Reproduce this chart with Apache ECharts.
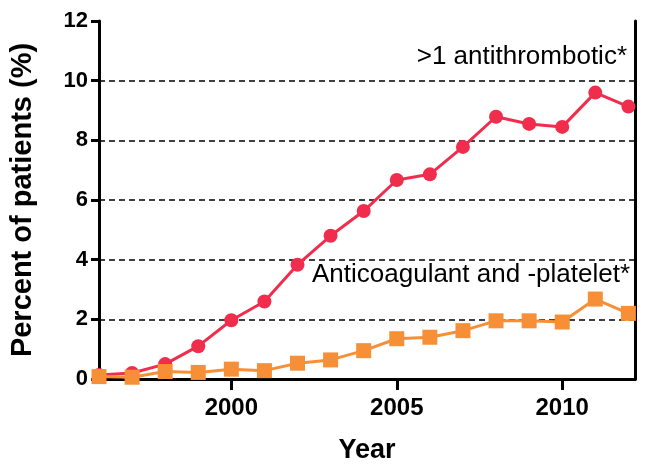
<!DOCTYPE html>
<html>
<head>
<meta charset="utf-8">
<script src="https://cdn.jsdelivr.net/npm/echarts@6/dist/echarts.min.js"></script>
<style>
html,body{margin:0;padding:0;background:#fff;}
#c{width:647px;height:469px;}
</style>
</head>
<body>
<div id="c"></div>
<script>
const years = [1996,1997,1998,1999,2000,2001,2002,2003,2004,2005,2006,2007,2008,2009,2010,2011,2012];
const multiAntithrombotic = [0.13,0.2,0.5,1.1,1.97,2.6,3.83,4.8,5.63,6.67,6.86,7.78,8.79,8.55,8.45,9.6,9.13];
const anticoagAndPlatelet = [0.08,0.06,0.25,0.22,0.33,0.28,0.53,0.64,0.95,1.35,1.4,1.62,1.95,1.95,1.91,2.68,2.2];
const xTicks = [2000,2005,2010];
const seriesNames = ['>1 antithrombotic*','Anticoagulant and -platelet*'];

const toPairs = (xs, ys) => xs.map((x, i) => [x, ys[i]]);

const frameAxis = {axisLine:{show:true,lineStyle:{color:'#000',width:3}},axisTick:{show:false},axisLabel:{show:false},splitLine:{show:false}};

const chart = echarts.init(document.getElementById('c'), null, {renderer:'canvas'});
chart.setOption({
  backgroundColor:'#fff',
  animation:false,
  grid:{left:96,right:12,top:21,bottom:89,show:false},
  xAxis:[{
    type:'value', min:1996, max:2012.2,
    name:'Year', nameLocation:'middle', nameGap:58,
    nameTextStyle:{fontFamily:'Liberation Sans',fontWeight:'bold',fontSize:27,color:'#000'},
    axisLine:{show:true,lineStyle:{color:'#000',width:3}},
    axisTick:{show:true,customValues:xTicks,length:11,lineStyle:{color:'#000',width:3}},
    axisLabel:{customValues:xTicks,margin:17,fontFamily:'Liberation Sans',fontWeight:'bold',fontSize:24,color:'#000',formatter:v=>String(v)},
    splitLine:{show:false}
  },Object.assign({type:'value',position:'top',min:1996,max:2012.2},frameAxis)],
  yAxis:[{
    type:'value', min:0, max:12, interval:2,
    name:'Percent of patients (%)', nameLocation:'middle', nameGap:62,
    nameTextStyle:{fontFamily:'Liberation Sans',fontWeight:'bold',fontSize:29,color:'#000'},
    axisLine:{show:true,lineStyle:{color:'#000',width:3}},
    axisTick:{show:true,inside:false,length:8,lineStyle:{color:'#000',width:3}},
    axisLabel:{margin:11,fontFamily:'Liberation Sans',fontWeight:'bold',fontSize:22,color:'#000'},
    splitLine:{show:true,showMinLine:false,showMaxLine:false,lineStyle:{color:'#000',width:1.5,type:[6,4]}}
  },Object.assign({type:'value',position:'right',min:0,max:12},frameAxis)],
  series:[
    {name:seriesNames[0],type:'line',data:toPairs(years,multiAntithrombotic),
     symbol:'circle',symbolSize:14,
     itemStyle:{color:'#f02d4d'},lineStyle:{color:'#f02d4d',width:3},z:3},
    {name:seriesNames[1],type:'line',data:toPairs(years,anticoagAndPlatelet),
     symbol:'rect',symbolSize:15,
     itemStyle:{color:'#f78f36'},lineStyle:{color:'#f78f36',width:3},z:4}
  ],
  graphic:[
    {type:'text',right:20,top:44,style:{text:seriesNames[0],fontFamily:'Liberation Sans',fontSize:26,fill:'#000'}},
    {type:'text',right:17,top:262,style:{text:seriesNames[1],fontFamily:'Liberation Sans',fontSize:26,fill:'#000'}}
  ]
});
</script>
</body>
</html>
